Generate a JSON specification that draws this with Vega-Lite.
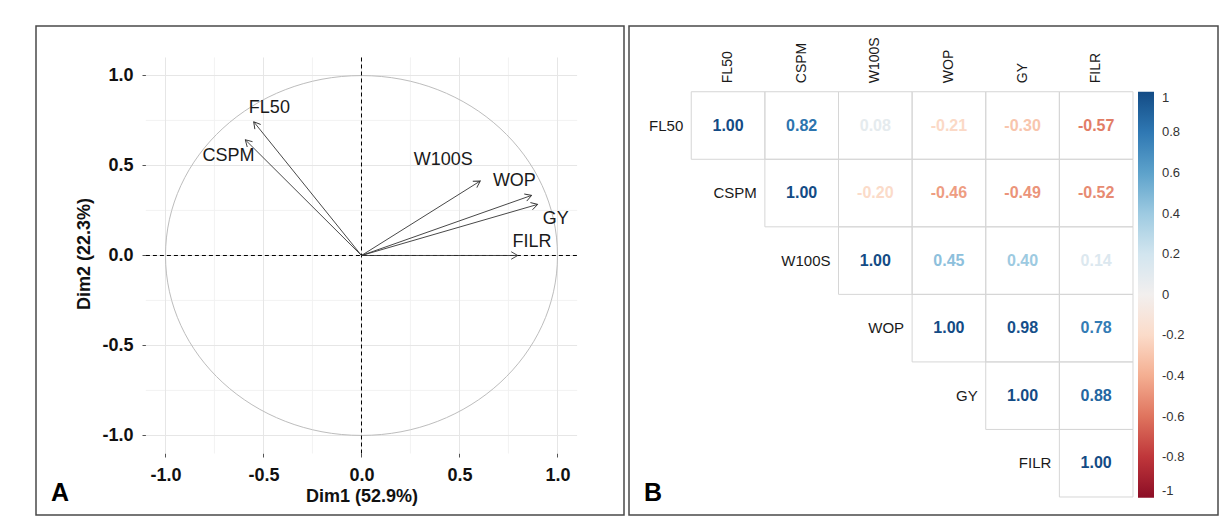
{
  "$schema": "https://vega.github.io/schema/vega-lite/v6.json",
  "background": "white",
  "padding": {"left": 35, "top": 25, "right": 0, "bottom": 0},
  "autosize": {"type": "pad"},
  "spacing": 5,
  "bounds": "flush",
  "config": {
    "view": {"stroke": "#4a4a4a", "strokeWidth": 1.5},
    "font": "Liberation Sans",
    "locale": {"number": {"decimal": ".", "thousands": ",", "grouping": [3], "currency": ["$", ""], "minus": "-"}}
  },
  "datasets": {
    "vars": [
      {"var": "FL50", "x": -0.550, "y": 0.743, "lx": -0.470, "ly": 0.819},
      {"var": "CSPM", "x": -0.593, "y": 0.643, "lx": -0.679, "ly": 0.553},
      {"var": "W100S", "x": 0.606, "y": 0.414, "lx": 0.417, "ly": 0.532},
      {"var": "WOP", "x": 0.868, "y": 0.334, "lx": 0.780, "ly": 0.416},
      {"var": "GY", "x": 0.899, "y": 0.284, "lx": 0.991, "ly": 0.201},
      {"var": "FILR", "x": 0.797, "y": 0.0, "lx": 0.870, "ly": 0.073}
    ],
    "gridMajor": [{"v": -1}, {"v": -0.5}, {"v": 0}, {"v": 0.5}, {"v": 1}],
    "gridMinor": [{"v": -0.75}, {"v": -0.25}, {"v": 0.25}, {"v": 0.75}],
    "zero": [{"v": 0}],
    "circle": [{"r": 1}],
    "corr": [
      {"row": "FL50", "col": "FL50", "r": 1.00},
      {"row": "FL50", "col": "CSPM", "r": 0.82},
      {"row": "FL50", "col": "W100S", "r": 0.08},
      {"row": "FL50", "col": "WOP", "r": -0.21},
      {"row": "FL50", "col": "GY", "r": -0.30},
      {"row": "FL50", "col": "FILR", "r": -0.57},
      {"row": "CSPM", "col": "CSPM", "r": 1.00},
      {"row": "CSPM", "col": "W100S", "r": -0.20},
      {"row": "CSPM", "col": "WOP", "r": -0.46},
      {"row": "CSPM", "col": "GY", "r": -0.49},
      {"row": "CSPM", "col": "FILR", "r": -0.52},
      {"row": "W100S", "col": "W100S", "r": 1.00},
      {"row": "W100S", "col": "WOP", "r": 0.45},
      {"row": "W100S", "col": "GY", "r": 0.40},
      {"row": "W100S", "col": "FILR", "r": 0.14},
      {"row": "WOP", "col": "WOP", "r": 1.00},
      {"row": "WOP", "col": "GY", "r": 0.98},
      {"row": "WOP", "col": "FILR", "r": 0.78},
      {"row": "GY", "col": "GY", "r": 1.00},
      {"row": "GY", "col": "FILR", "r": 0.88},
      {"row": "FILR", "col": "FILR", "r": 1.00}
    ]
  },
  "resolve": {"scale": {"color": "independent"}, "legend": {"color": "independent"}},
  "hconcat": [
    {
      "width": 588,
      "height": 489,
      "title": {"text": "A", "orient": "bottom", "anchor": "start", "frame": "group", "offset": -14, "baseline": "alphabetic", "dx": 15, "fontSize": 25, "fontWeight": "bold", "color": "#000000", "font": "Liberation Sans"},
      "layer": [
        {
          "data": {"name": "gridMinor"},
          "mark": {"type": "rule", "stroke": "#f0f0f0", "strokeWidth": 0.8},
          "encoding": {
            "x": {"field": "v", "type": "quantitative",
              "scale": {"domain": [-1.6607, 1.3393], "nice": false, "zero": false},
              "axis": {"values": [-1, -0.5, 0, 0.5, 1], "format": ".1f", "offset": -62, "domain": false, "grid": false, "tickSize": 4, "tickColor": "#555555", "labelFontSize": 18, "labelFontWeight": "bold", "labelColor": "#111111", "labelPadding": 9, "labelFont": "Liberation Sans", "title": "Dim1 (52.9%)", "titleFontSize": 18, "titleFontWeight": "bold", "titleColor": "#111111", "titleFont": "Liberation Sans", "titleX": 325.5, "titleY": 48.7, "titleBaseline": "alphabetic", "titleAlign": "center"}},
            "y": {"datum": -1.1, "type": "quantitative",
              "scale": {"domain": [-1.4417, 1.275], "nice": false, "zero": false},
              "axis": {"values": [-1, -0.5, 0, 0.5, 1], "format": ".1f", "offset": -110, "domain": false, "grid": false, "tickSize": 4, "tickColor": "#555555", "labelFontSize": 18, "labelFontWeight": "bold", "labelColor": "#111111", "labelPadding": 9, "labelFont": "Liberation Sans", "title": "Dim2 (22.3%)", "titleFontSize": 18, "titleFontWeight": "bold", "titleColor": "#111111", "titleFont": "Liberation Sans", "titleX": -57, "titleY": 227.5, "titleAngle": 270, "titleBaseline": "alphabetic", "titleAlign": "center"}},
            "y2": {"datum": 1.1}
          }
        },
        {
          "data": {"name": "gridMinor"},
          "mark": {"type": "rule", "stroke": "#f0f0f0", "strokeWidth": 0.8},
          "encoding": {
            "y": {"field": "v", "type": "quantitative"},
            "x": {"datum": -1.1, "type": "quantitative"},
            "x2": {"datum": 1.1}
          }
        },
        {
          "data": {"name": "gridMajor"},
          "mark": {"type": "rule", "stroke": "#e6e6e6", "strokeWidth": 1},
          "encoding": {
            "x": {"field": "v", "type": "quantitative"},
            "y": {"datum": -1.1, "type": "quantitative"},
            "y2": {"datum": 1.1}
          }
        },
        {
          "data": {"name": "gridMajor"},
          "mark": {"type": "rule", "stroke": "#e6e6e6", "strokeWidth": 1},
          "encoding": {
            "y": {"field": "v", "type": "quantitative"},
            "x": {"datum": -1.1, "type": "quantitative"},
            "x2": {"datum": 1.1}
          }
        },
        {
          "data": {"name": "circle"},
          "mark": {"type": "point", "shape": "M1,0C1,0.507 0.552,0.918 0,0.918C-0.552,0.918 -1,0.507 -1,0C-1,-0.507 -0.552,-0.918 0,-0.918C0.552,-0.918 1,-0.507 1,0Z", "size": 153664, "filled": false, "stroke": "#bdbdbd", "strokeWidth": 1, "opacity": 1},
          "encoding": {
            "x": {"datum": 0, "type": "quantitative"},
            "y": {"datum": 0, "type": "quantitative"}
          }
        },
        {
          "data": {"name": "zero"},
          "mark": {"type": "rule", "stroke": "#000000", "strokeWidth": 1, "strokeDash": [4, 3]},
          "encoding": {
            "y": {"field": "v", "type": "quantitative"},
            "x": {"datum": -1.1, "type": "quantitative"},
            "x2": {"datum": 1.1}
          }
        },
        {
          "data": {"name": "zero"},
          "mark": {"type": "rule", "stroke": "#000000", "strokeWidth": 1, "strokeDash": [4, 3]},
          "encoding": {
            "x": {"field": "v", "type": "quantitative"},
            "y": {"datum": -1.1, "type": "quantitative"},
            "y2": {"datum": 1.1}
          }
        },
        {
          "data": {"name": "vars"},
          "mark": {"type": "rule", "stroke": "#333333", "strokeWidth": 0.9},
          "encoding": {
            "x": {"field": "x", "type": "quantitative"},
            "y": {"field": "y", "type": "quantitative"},
            "x2": {"datum": 0},
            "y2": {"datum": 0}
          }
        },
        {
          "data": {"name": "vars"},
          "transform": [{"calculate": "atan2(datum.x * 196, datum.y * 180) * 180 / PI", "as": "ang"}],
          "mark": {"type": "point", "shape": "M-0.5,0.866L0,0L0.5,0.866", "size": 225, "filled": false, "stroke": "#333333", "strokeWidth": 0.9, "opacity": 1},
          "encoding": {
            "x": {"field": "x", "type": "quantitative"},
            "y": {"field": "y", "type": "quantitative"},
            "angle": {"field": "ang", "type": "quantitative", "scale": null}
          }
        },
        {
          "data": {"name": "vars"},
          "mark": {"type": "text", "fontSize": 18, "font": "Liberation Sans", "color": "#1a1a1a", "align": "center", "baseline": "middle"},
          "encoding": {
            "x": {"field": "lx", "type": "quantitative"},
            "y": {"field": "ly", "type": "quantitative"},
            "text": {"field": "var"}
          }
        }
      ]
    },
    {
      "width": 589,
      "height": 489,
      "title": {"text": "B", "orient": "bottom", "anchor": "start", "frame": "group", "offset": -14, "baseline": "alphabetic", "dx": 15, "fontSize": 25, "fontWeight": "bold", "color": "#000000", "font": "Liberation Sans"},
      "data": {"name": "corr"},
      "layer": [
        {
          "mark": {"type": "rect", "fill": "transparent", "stroke": "#d6d6d6", "strokeWidth": 1},
          "encoding": {
            "x": {"field": "col", "type": "nominal",
              "scale": {"domain": ["FL50", "CSPM", "W100S", "WOP", "GY", "FILR"], "paddingInner": 0, "paddingOuter": 1.025, "align": 0.4227},
              "axis": {"orient": "top", "offset": -65.7, "domain": false, "ticks": false, "grid": false, "labelAngle": -90, "labelPadding": 9, "labelFontSize": 14, "labelColor": "#1a1a1a", "labelFont": "Liberation Sans", "title": null}},
            "y": {"field": "row", "type": "nominal",
              "scale": {"domain": ["FL50", "CSPM", "W100S", "WOP", "GY", "FILR"], "paddingInner": 0, "paddingOuter": 0.62, "align": 0.785},
              "axis": null}
          }
        },
        {
          "mark": {"type": "text", "fontSize": 16, "fontWeight": "bold", "font": "Liberation Sans", "align": "center", "baseline": "middle"},
          "encoding": {
            "x": {"field": "col", "type": "nominal"},
            "y": {"field": "row", "type": "nominal"},
            "text": {"field": "r", "type": "quantitative", "format": ".2f"},
            "color": {"field": "r", "type": "quantitative",
              "scale": {"domain": [-1, 1], "scheme": "redblue"},
              "legend": {"type": "gradient", "direction": "vertical", "orient": "none", "legendX": 509, "legendY": 65.7, "gradientLength": 406, "gradientThickness": 16, "gradientStrokeWidth": 0, "title": null, "values": [1, 0.8, 0.6, 0.4, 0.2, 0, -0.2, -0.4, -0.6, -0.8, -1], "format": "~g", "labelFontSize": 13, "labelColor": "#333333", "labelFont": "Liberation Sans", "labelOffset": 8, "labelBaseline": "middle", "labelOverlap": false}}
          }
        },
        {
          "transform": [{"filter": "datum.row === datum.col"}],
          "mark": {"type": "text", "fontSize": 15, "font": "Liberation Sans", "color": "#1a1a1a", "align": "right", "baseline": "middle", "dx": -8},
          "encoding": {
            "x": {"field": "col", "type": "nominal", "bandPosition": 0},
            "y": {"field": "row", "type": "nominal"},
            "text": {"field": "row"}
          }
        }
      ]
    }
  ]
}
